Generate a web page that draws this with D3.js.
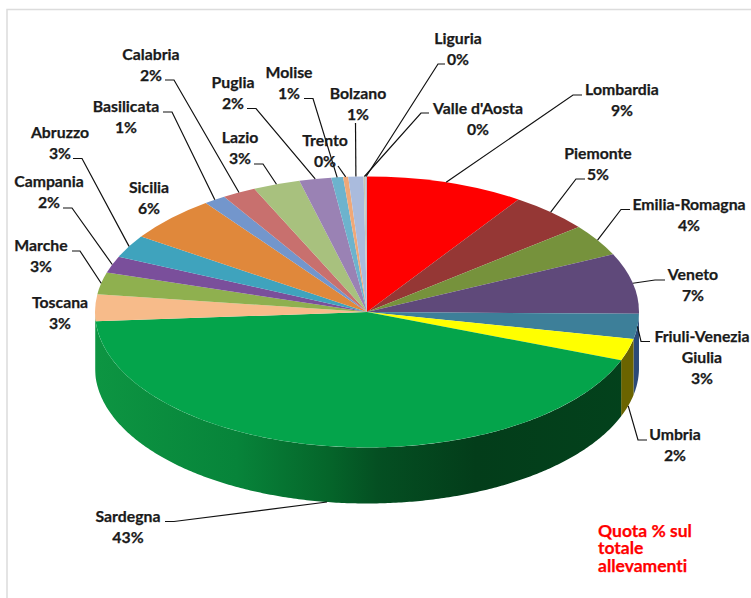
<!DOCTYPE html>
<html>
<head>
<meta charset="utf-8">
<script src="https://cdn.jsdelivr.net/npm/d3@7"></script>
<style>
  html, body { margin: 0; padding: 0; background: #fff; }
  text { font-family: Lato, "Open Sans", sans-serif; font-weight: 700; font-variant-ligatures: none; }
</style>
</head>
<body>
<div id="chart"></div>
<script>
/* DATA */
const regions = ["Lombardia", "Piemonte", "Emilia-Romagna", "Veneto", "Friuli-Venezia Giulia", "Umbria",
  "Sardegna", "Toscana", "Marche", "Campania", "Abruzzo", "Sicilia", "Basilicata", "Calabria", "Lazio",
  "Puglia", "Molise", "Trento", "Bolzano", "Valle d'Aosta", "Liguria"];
// shares, the printed labels are the rounded ones
const shares = [9.4, 4.8, 3.8, 7.2, 3.0, 2.6, 43.1, 3.2, 2.6, 2.0, 2.7, 5.5, 1.3, 2.0, 2.8, 1.9, 0.7, 0.3, 0.9, 0.1, 0.1];
const shareLabels = ["9%", "5%", "4%", "7%", "3%", "2%", "43%", "3%", "3%", "2%", "3%", "6%", "1%", "2%", "3%",
  "2%", "1%", "0%", "1%", "0%", "0%"];
const note = ["Quota % sul", "totale", "allevamenti"];

/* LAYOUT AND STYLE */
const width = 751, height = 598;
const cx = 367, cy = 312, rx = 272, ry = 135.5, depth = 56;

const topColors = ["#ff0000", "#953735", "#76923c", "#5f497a", "#3d7f99", "#ffff00", "#04a44b", "#f7bb8a",
  "#8fb04f", "#7a4f9b", "#3fa3bd", "#e0883b", "#7396cc", "#c8706e", "#a8c17e", "#9a82b4", "#6db3cd",
  "#f0a878", "#aabbdd", "#c4c9b8", "#b8bcc8"];
const sideColors = { "Friuli-Venezia Giulia": "#2b4a78", "Umbria": "#6b6400", "Toscana": "#0d9542" };

// label lines: x is the centre, y the first baseline. elbow = where the leader bends
const labelPos = {
  "Lombardia": { x: 622, y: 95, elbow: [[573, 95], [582, 95]] },
  "Piemonte": { x: 598, y: 159, elbow: [[576, 179], [585, 179]] },
  "Emilia-Romagna": { x: 689, y: 210, elbow: [[621, 209.5], [630, 209.5]] },
  "Veneto": { x: 693, y: 280, elbow: [[655, 280], [665, 280]] },
  "Friuli-Venezia Giulia": { x: 702, y: 342, lines: ["Friuli-Venezia", "Giulia"], elbow: [[641, 341.5], [650, 341.5]] },
  "Umbria": { x: 675, y: 440, elbow: [[638, 440], [647, 440]] },
  "Sardegna": { x: 128, y: 522, elbow: [[174, 521.5], [165, 521.5]] },
  "Toscana": { x: 60, y: 308 },
  "Marche": { x: 41, y: 251, elbow: [[80, 251], [72, 251]] },
  "Campania": { x: 49, y: 187, elbow: [[72, 208], [63, 208]] },
  "Abruzzo": { x: 60, y: 138, elbow: [[82, 158.5], [73, 158.5]] },
  "Sicilia": { x: 149, y: 193 },
  "Basilicata": { x: 126, y: 112, elbow: [[172, 112], [163, 112]] },
  "Calabria": { x: 151, y: 60, elbow: [[174, 80], [165, 80]] },
  "Lazio": { x: 240, y: 143, elbow: [[263, 164], [254, 164]] },
  "Puglia": { x: 233, y: 88, elbow: [[256, 108.5], [247, 108.5]] },
  "Molise": { x: 289, y: 78, elbow: [[313, 98.5], [304, 98.5]] },
  "Trento": { x: 325, y: 146, elbow: [[338, 166]] },
  "Bolzano": { x: 358, y: 99, elbow: [[355.5, 123]] },
  "Valle d'Aosta": { x: 478, y: 114, elbow: [[421, 113], [429, 113]] },
  "Liguria": { x: 458, y: 44, elbow: [[438, 64], [445, 64]] }
};

/* PIE */
const pie = d3.pie().sort(null).value(d => d.share).startAngle(0).endAngle(2 * Math.PI);
const slices = pie(regions.map((name, i) => ({ name, share: shares[i], label: shareLabels[i], color: topColors[i] })));

const rimX = a => cx + rx * Math.sin(a);
const rimY = a => cy - ry * Math.cos(a);

const svg = d3.select("#chart").append("svg")
  .attr("width", width)
  .attr("height", height)
  .style("display", "block");

// frame of the original picture
svg.append("path")
  .attr("d", `M7,${height}V9.5H${width}`)
  .attr("fill", "none")
  .attr("stroke", "#dcdcdc")
  .attr("stroke-width", 1.5);

// shaded front wall of the big green slice
const gradient = svg.append("defs").append("linearGradient")
  .attr("id", "wallGreen")
  .attr("gradientUnits", "userSpaceOnUse")
  .attr("x1", cx - rx).attr("x2", cx + rx)
  .attr("y1", 0).attr("y2", 0);
gradient.selectAll("stop")
  .data([[0, "#0d9542"], [0.26, "#07843a"], [0.43, "#05652a"], [0.52, "#044f22"], [0.7, "#033d1a"], [1, "#03421c"]])
  .join("stop")
  .attr("offset", d => d[0])
  .attr("stop-color", d => d[1]);

/* SIDE WALLS - only the part of the rim facing us, 90deg to 270deg */
const rimLine = d3.line();
const walls = svg.append("g");
slices.forEach(s => {
  const a0 = Math.max(s.startAngle, Math.PI / 2);
  const a1 = Math.min(s.endAngle, 3 * Math.PI / 2);
  if (a1 <= a0) return;
  const steps = d3.range(a0, a1, 0.01).concat([a1]);
  const pts = steps.map(a => [rimX(a), rimY(a)])
    .concat(steps.slice().reverse().map(a => [rimX(a), rimY(a) + depth]));
  walls.append("path")
    .attr("d", rimLine(pts) + "Z")
    .attr("fill", s.data.name === "Sardegna" ? "url(#wallGreen)" : (sideColors[s.data.name] || d3.color(s.data.color).darker(1)));
});

/* TOP FACE - circular arcs squashed to an ellipse */
const arc = d3.arc().innerRadius(0).outerRadius(rx);
svg.append("g")
  .attr("transform", `translate(${cx},${cy}) scale(1,${ry / rx})`)
  .selectAll("path")
  .data(slices)
  .join("path")
  .attr("d", arc)
  .attr("fill", d => d.data.color);

/* LEADERS */
const leader = d3.line();
svg.append("g")
  .selectAll("path")
  .data(slices.filter(s => labelPos[s.data.name].elbow))
  .join("path")
  .attr("d", s => {
    const mid = (s.startAngle + s.endAngle) / 2;
    // the wall hides the top rim at the front, so those leaders start at the bottom edge
    const dy = ["Sardegna", "Umbria"].includes(s.data.name) ? depth : 0;
    return leader([[rimX(mid), rimY(mid) + dy]].concat(labelPos[s.data.name].elbow));
  })
  .attr("fill", "none")
  .attr("stroke", "#111")
  .attr("stroke-width", 1.2);

/* LABELS */
const labels = svg.append("g")
  .attr("fill", "#1a1a1a")
  .attr("stroke", "#1a1a1a")
  .attr("stroke-width", 0.25)
  .attr("font-size", 15.8)
  .attr("text-anchor", "middle");
slices.forEach(s => {
  const p = labelPos[s.data.name];
  const lines = (p.lines || [s.data.name]).concat([s.data.label]);
  lines.forEach((line, i) => {
    labels.append("text")
      .attr("x", p.x)
      .attr("y", p.y + i * 21)
      .text(line);
  });
});

/* NOTE */
svg.append("g")
  .attr("fill", "#ff0000")
  .attr("stroke", "#ff0000")
  .attr("stroke-width", 0.25)
  .attr("font-size", 17.5)
  .selectAll("text")
  .data(note)
  .join("text")
  .attr("x", 598)
  .attr("y", (d, i) => 537 + i * 17.3)
  .text(d => d);
</script>
</body>
</html>
